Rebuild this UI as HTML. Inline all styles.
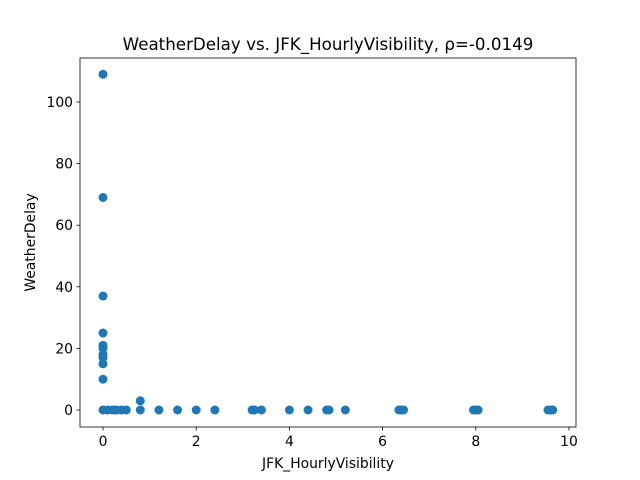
<!DOCTYPE html>
<html><head><meta charset="utf-8"><style>
body{margin:0;background:#fff}
svg{display:block;font-family:"DejaVu Sans","Liberation Sans",sans-serif}
</style></head><body>
<svg id="chart" width="640" height="480" viewBox="0 0 640 480">
<rect width="640" height="480" fill="#fff"/>
<text x="328" y="50" text-anchor="middle" font-size="16.7">WeatherDelay vs. JFK_HourlyVisibility, ρ=-0.0149</text>
<g id="plot"></g>
<rect x="80" y="58" width="496" height="369" fill="none" stroke="#000" stroke-width="0.8"/>
<g id="xt"></g>
<g id="yt"></g>
<text x="328" y="468" text-anchor="middle" font-size="13.9">JFK_HourlyVisibility</text>
<text transform="translate(35,242.5) rotate(-90)" text-anchor="middle" font-size="13.9">WeatherDelay</text>
</svg>
<script>
const xValues=[0,0,0,0,0,0,0,0,0,0,0,0.1,0.2,0.25,0.3,0.4,0.5,0.8,0.8,1.2,1.6,2.0,2.4,3.2,3.25,3.4,4.0,4.4,4.8,4.85,5.2,6.4,6.45,6.35,8.0,8.05,7.95,9.6,9.65,9.55];
const yValues=[109,69,37,25,21,20,18,17,15,10,0,0,0,0,0,0,0,3,0,0,0,0,0,0,0,0,0,0,0,0,0,0,0,0,0,0,0,0,0,0];
const xTicks=[0,2,4,6,8,10];
const yTicks=[0,20,40,60,80,100];
const X=v=>103+v*46.6;
const Y=v=>410-v*3.08;
const NS="http://www.w3.org/2000/svg";
const plot=document.getElementById('plot');
xValues.forEach((x,i)=>{
 const c=document.createElementNS(NS,'circle');
 c.setAttribute('cx',X(x));c.setAttribute('cy',Y(yValues[i]));c.setAttribute('r',4.5);c.setAttribute('fill','#1f77b4');
 
 
 plot.appendChild(c);
});
const xt=document.getElementById('xt');
xTicks.forEach(t=>{
 const l=document.createElementNS(NS,'line');
 l.setAttribute('x1',X(t));l.setAttribute('x2',X(t));l.setAttribute('y1',427);l.setAttribute('y2',430.5);l.setAttribute('stroke','#000');l.setAttribute('stroke-width','0.8');
 
 
 xt.appendChild(l);
 const s=document.createElementNS(NS,'text');
 s.setAttribute('x',X(t));s.setAttribute('y',446);s.setAttribute('text-anchor','middle');s.setAttribute('font-size','13.9');s.textContent=t;
 
 
 xt.appendChild(s);
});
const yt=document.getElementById('yt');
yTicks.forEach(t=>{
 const l=document.createElementNS(NS,'line');
 l.setAttribute('x1',76.5);l.setAttribute('x2',80);l.setAttribute('y1',Y(t));l.setAttribute('y2',Y(t));l.setAttribute('stroke','#000');l.setAttribute('stroke-width','0.8');
 
 
 yt.appendChild(l);
 const s=document.createElementNS(NS,'text');
 s.setAttribute('x',73);s.setAttribute('y',Y(t)+5);s.setAttribute('text-anchor','end');s.setAttribute('font-size','13.9');s.textContent=t;
 
 
 yt.appendChild(s);
});
</script>
</body></html>
